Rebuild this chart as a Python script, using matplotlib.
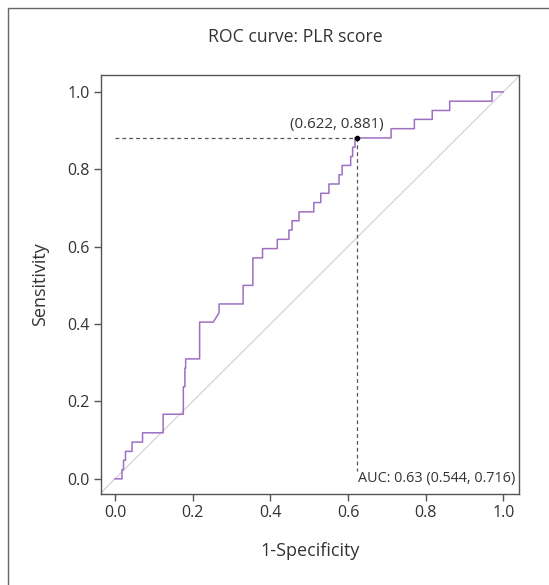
#!/usr/bin/env python3
"""ROC curve for the PLR score, redrawn with matplotlib"""

import matplotlib
matplotlib.use("Agg")
import matplotlib.pyplot as plt
from matplotlib.patches import Rectangle

# ROC vertices (1-specificity, sensitivity)
fpr = [0.000, 0.018, 0.018, 0.022, 0.022, 0.027, 0.027, 0.044, 0.044, 0.071,
       0.071, 0.124, 0.124, 0.176, 0.176, 0.180, 0.180, 0.182, 0.182, 0.218,
       0.218, 0.253, 0.268, 0.268, 0.330, 0.330, 0.355, 0.355, 0.380, 0.380,
       0.418, 0.418, 0.448, 0.448, 0.456, 0.456, 0.474, 0.474, 0.512, 0.512,
       0.530, 0.530, 0.551, 0.551, 0.577, 0.577, 0.585, 0.585, 0.607, 0.607,
       0.612, 0.612, 0.618, 0.618, 0.711, 0.711, 0.771, 0.771, 0.817, 0.817,
       0.862, 0.862, 0.971, 0.971, 1.000]
tpr = [0.000, 0.000, 0.024, 0.024, 0.048, 0.048, 0.071, 0.071, 0.095, 0.095,
       0.119, 0.119, 0.167, 0.167, 0.238, 0.238, 0.286, 0.286, 0.310, 0.310,
       0.405, 0.405, 0.429, 0.452, 0.452, 0.500, 0.500, 0.571, 0.571, 0.595,
       0.595, 0.619, 0.619, 0.643, 0.643, 0.667, 0.667, 0.690, 0.690, 0.714,
       0.714, 0.738, 0.738, 0.762, 0.762, 0.786, 0.786, 0.810, 0.810, 0.833,
       0.833, 0.857, 0.857, 0.881, 0.881, 0.905, 0.905, 0.929, 0.929, 0.952,
       0.952, 0.976, 0.976, 1.000, 1.000]

best_fpr, best_tpr = 0.622, 0.881
auc, auc_lo, auc_hi = 0.63, 0.544, 0.716

ticks = [0.0, 0.2, 0.4, 0.6, 0.8, 1.0]
tick_labels = ["0.0", "0.2", "0.4", "0.6", "0.8", "1.0"]

plt.rcParams['font.family'] = ['Open Sans', 'DejaVu Sans']
text_col = '#333333'
axis_col = '#555555'

fig = plt.figure(figsize=(5.49, 5.85), dpi=100)
ax = fig.add_axes([0.184, 0.155, 0.761, 0.717])

# outer frame (left and top edges visible, rest runs off the image)
fig.patches.append(Rectangle((8 / 549, -0.05), 1.2, 1 - 8 / 585 + 0.05,
                             transform=fig.transFigure, fill=False,
                             edgecolor='#666666', linewidth=1.0))

# chance diagonal
ax.axline((0, 0), slope=1, color='#d8d0dc', linewidth=0.9, zorder=1)

# ROC curve
ax.plot(fpr, tpr, color='#9e6fc2', linewidth=1.1, zorder=3)

# best threshold marker with guide lines
ax.plot([0, best_fpr], [best_tpr, best_tpr], color=axis_col,
        linestyle=(0, (3, 2.5)), linewidth=0.9, zorder=2)
ax.plot([best_fpr, best_fpr], [best_tpr, 0.02], color=axis_col,
        linestyle=(0, (3, 2.5)), linewidth=0.9, zorder=2)
ax.plot([best_fpr], [best_tpr], 'o', color='black', markersize=3, zorder=4)
ax.text(0.692, 0.897, f"({best_fpr:.3f}, {best_tpr:.3f})", ha='right',
        va='bottom', fontsize=10.8, color=text_col)
ax.text(0.627, 0.0, f"AUC: {auc:.2f} ({auc_lo:.3f}, {auc_hi:.3f})",
        ha='left', va='center', fontsize=10.4, color=text_col)

ax.set_xlim(-0.036, 1.04)
ax.set_ylim(-0.04, 1.044)
ax.set_xticks(ticks)
ax.set_xticklabels(tick_labels)
ax.set_yticks(ticks)
ax.set_yticklabels(tick_labels)
ax.tick_params(direction='out', length=5, width=1, color=axis_col,
               labelsize=11.5, labelcolor=text_col, pad=3)
for sp in ax.spines.values():
    sp.set_color(axis_col)
    sp.set_linewidth(1.0)

ax.set_xlabel('1-Specificity', fontsize=13, color=text_col, labelpad=15)
ax.set_ylabel('Sensitivity', fontsize=13, color=text_col, labelpad=13)
fig.text(295.5 / 549, 1 - 37 / 585, 'ROC curve: PLR score', ha='center',
         va='center', fontsize=12.7, color=text_col)

fig.savefig('out.png', dpi=100, facecolor='white')
plt.close(fig)
